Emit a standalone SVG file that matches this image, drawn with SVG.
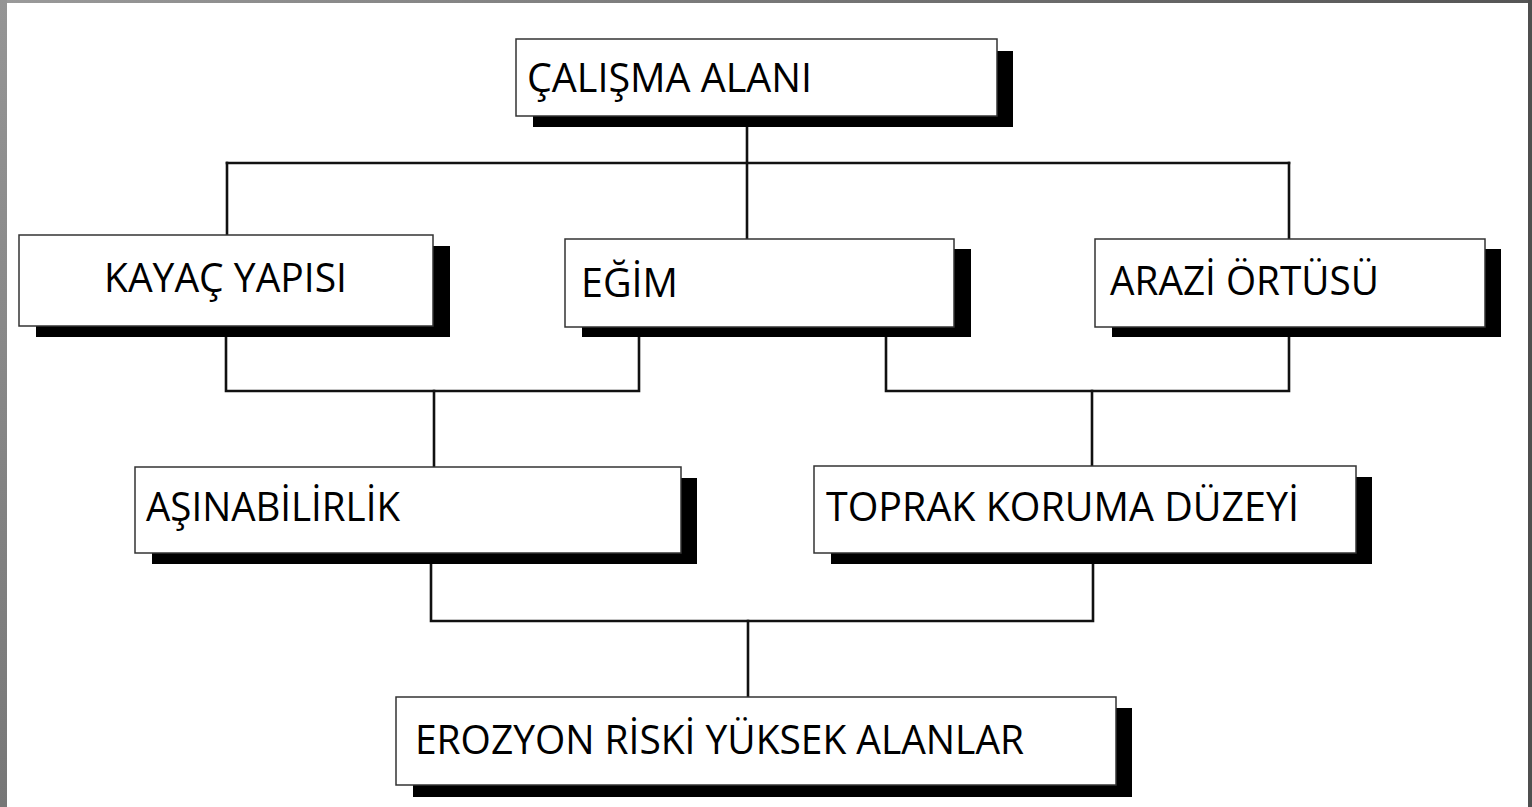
<svg xmlns="http://www.w3.org/2000/svg" width="1532" height="807" viewBox="0 0 1532 807">
<defs>
<linearGradient id="gTop" x1="0" y1="0" x2="1" y2="0"><stop offset="0" stop-color="#9a9a9a"/><stop offset="1" stop-color="#555555"/></linearGradient>
<linearGradient id="gLeft" x1="0" y1="0" x2="0" y2="1"><stop offset="0" stop-color="#959595"/><stop offset="1" stop-color="#777777"/></linearGradient>
<style>
.box{fill:#ffffff;stroke:#333333;stroke-width:1.5}
.sh{fill:#000000}
.lbl{font-family:"Open Sans","Liberation Sans",sans-serif;font-size:41px;fill:#000000}
.con{stroke:#111111;stroke-width:2.6;fill:none;stroke-linecap:square}
</style>
</defs>
<rect x="0" y="0" width="1532" height="807" fill="#ffffff"/>
<g id="frame">
<rect x="0" y="0" width="1532" height="3" fill="url(#gTop)"/>
<rect x="0" y="0" width="7" height="807" fill="url(#gLeft)"/>
<rect x="1528" y="0" width="4" height="807" fill="#4f4f4f"/>
</g>
<g id="connectors">
<path class="con" d="M747 116 V238"/>
<path class="con" d="M227 163 H1289"/>
<path class="con" d="M227 163 V235"/>
<path class="con" d="M1289 163 V238"/>
<path class="con" d="M226 326 V391 H639 V327"/>
<path class="con" d="M434 391 V467"/>
<path class="con" d="M886 327 V391 H1289 V327"/>
<path class="con" d="M1092 391 V466"/>
<path class="con" d="M431 553 V621 H1093 V553"/>
<path class="con" d="M748 621 V697"/>
</g>
<g id="n-calisma">
<rect class="sh" x="533" y="51" width="480" height="76"/>
<rect class="box" x="516" y="39" width="481" height="77"/>
<text class="lbl" x="527" y="92" textLength="285" lengthAdjust="spacingAndGlyphs">ÇALIŞMA ALANI</text>
</g>
<g id="n-kayac">
<rect class="sh" x="36" y="246" width="414" height="91"/>
<rect class="box" x="19" y="235" width="414" height="91"/>
<text class="lbl" x="104" y="292" textLength="243" lengthAdjust="spacingAndGlyphs">KAYAÇ YAPISI</text>
</g>
<g id="n-egim">
<rect class="sh" x="582" y="249" width="389" height="88"/>
<rect class="box" x="565" y="239" width="389" height="88"/>
<text class="lbl" x="581" y="297" textLength="97" lengthAdjust="spacingAndGlyphs">EĞİM</text>
</g>
<g id="n-arazi">
<rect class="sh" x="1112" y="249" width="389" height="88"/>
<rect class="box" x="1095" y="239" width="390" height="88"/>
<text class="lbl" x="1110" y="295" textLength="269" lengthAdjust="spacingAndGlyphs">ARAZİ ÖRTÜSÜ</text>
</g>
<g id="n-asinabilirlik">
<rect class="sh" x="152" y="478" width="545" height="86"/>
<rect class="box" x="135" y="467" width="546" height="86"/>
<text class="lbl" x="146" y="521" textLength="254" lengthAdjust="spacingAndGlyphs">AŞINABİLİRLİK</text>
</g>
<g id="n-toprak">
<rect class="sh" x="831" y="477" width="541" height="87"/>
<rect class="box" x="814" y="466" width="542" height="87"/>
<text class="lbl" x="826" y="521" textLength="473" lengthAdjust="spacingAndGlyphs">TOPRAK KORUMA DÜZEYİ</text>
</g>
<g id="n-erozyon">
<rect class="sh" x="413" y="708" width="719" height="89"/>
<rect class="box" x="396" y="697" width="720" height="88"/>
<text class="lbl" x="415" y="754" textLength="609" lengthAdjust="spacingAndGlyphs">EROZYON RİSKİ YÜKSEK ALANLAR</text>
</g>
</svg>
